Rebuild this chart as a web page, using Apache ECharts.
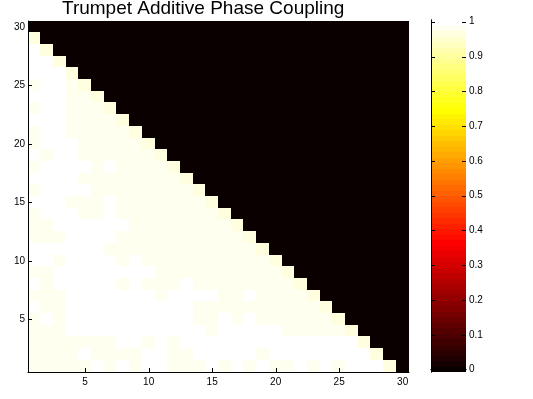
<!DOCTYPE html>
<html>
<head>
<meta charset="utf-8">
<script src="https://cdn.jsdelivr.net/npm/echarts@6/dist/echarts.min.js"></script>
<style>
html,body{margin:0;padding:0;background:#ffffff;}
#chart{width:533px;height:399px;}
</style>
</head>
<body>
<div id="chart"></div>
<script>
// value levels
const W = 1.00;   // white cells
const C = 0.98;   // pale cream cells
const D = 0.96;   // cells on the edge of the triangle (slightly more yellow)
const K = 0;      // black (upper triangle)

const xCategories = ['1','2','3','4','5','6','7','8','9','10','11','12','13','14','15','16','17','18','19','20','21','22','23','24','25','26','27','28','29','30'];
const yCategories = ['1','2','3','4','5','6','7','8','9','10','11','12','13','14','15','16','17','18','19','20','21','22','23','24','25','26','27','28','29','30'];
const axisTickLabels = ['5','10','15','20','25','30'];
const colorbarTicks = [0,0.1,0.2,0.3,0.4,0.5,0.6,0.7,0.8,0.9,1];
const colorLimits = [-0.007, 1.005];

// rows listed from y = 30 (top) down to y = 1 (bottom); columns x = 1..30
const couplingRows = [
/*30*/ [K,K,K,K,K,K,K,K,K,K, K,K,K,K,K,K,K,K,K,K, K,K,K,K,K,K,K,K,K,K],
/*29*/ [D,K,K,K,K,K,K,K,K,K, K,K,K,K,K,K,K,K,K,K, K,K,K,K,K,K,K,K,K,K],
/*28*/ [W,D,K,K,K,K,K,K,K,K, K,K,K,K,K,K,K,K,K,K, K,K,K,K,K,K,K,K,K,K],
/*27*/ [W,W,D,K,K,K,K,K,K,K, K,K,K,K,K,K,K,K,K,K, K,K,K,K,K,K,K,K,K,K],
/*26*/ [W,W,W,D,K,K,K,K,K,K, K,K,K,K,K,K,K,K,K,K, K,K,K,K,K,K,K,K,K,K],
/*25*/ [C,W,W,C,D,K,K,K,K,K, K,K,K,K,K,K,K,K,K,K, K,K,K,K,K,K,K,K,K,K],
/*24*/ [W,W,W,C,C,D,K,K,K,K, K,K,K,K,K,K,K,K,K,K, K,K,K,K,K,K,K,K,K,K],
/*23*/ [C,W,W,C,C,C,D,K,K,K, K,K,K,K,K,K,K,K,K,K, K,K,K,K,K,K,K,K,K,K],
/*22*/ [W,W,W,C,C,C,C,D,K,K, K,K,K,K,K,K,K,K,K,K, K,K,K,K,K,K,K,K,K,K],
/*21*/ [C,W,W,C,C,C,C,C,D,K, K,K,K,K,K,K,K,K,K,K, K,K,K,K,K,K,K,K,K,K],
/*20*/ [C,W,W,W,C,C,C,C,C,D, K,K,K,K,K,K,K,K,K,K, K,K,K,K,K,K,K,K,K,K],
/*19*/ [W,C,W,W,C,C,C,C,C,C, D,K,K,K,K,K,K,K,K,K, K,K,K,K,K,K,K,K,K,K],
/*18*/ [C,W,W,W,W,C,W,C,C,C, C,D,K,K,K,K,K,K,K,K, K,K,K,K,K,K,K,K,K,K],
/*17*/ [W,W,W,W,C,C,C,C,C,C, C,C,D,K,K,K,K,K,K,K, K,K,K,K,K,K,K,K,K,K],
/*16*/ [C,W,W,W,W,C,C,C,C,C, C,C,C,D,K,K,K,K,K,K, K,K,K,K,K,K,K,K,K,K],
/*15*/ [W,W,W,C,C,C,W,C,C,C, C,C,C,C,D,K,K,K,K,K, K,K,K,K,K,K,K,K,K,K],
/*14*/ [C,W,W,W,C,C,W,C,C,C, C,C,C,C,C,D,K,K,K,K, K,K,K,K,K,K,K,K,K,K],
/*13*/ [C,C,W,W,W,W,W,W,C,C, C,C,C,C,C,C,D,K,K,K, K,K,K,K,K,K,K,K,K,K],
/*12*/ [C,C,C,W,W,W,W,C,C,C, C,C,C,C,C,C,C,D,K,K, K,K,K,K,K,K,K,K,K,K],
/*11*/ [W,W,W,W,W,W,C,C,C,C, C,C,C,C,C,C,C,C,D,K, K,K,K,K,K,K,K,K,K,K],
/*10*/ [W,W,C,W,W,W,W,C,W,C, C,C,C,C,C,C,C,C,C,D, K,K,K,K,K,K,K,K,K,K],
/* 9*/ [C,C,W,W,W,W,W,W,W,W, C,C,C,C,C,C,C,C,C,C, D,K,K,K,K,K,K,K,K,K],
/* 8*/ [W,C,W,W,W,W,W,C,W,C, C,C,W,C,C,C,C,C,C,C, C,D,K,K,K,K,K,K,K,K],
/* 7*/ [C,C,C,W,W,W,W,W,W,W, C,W,W,W,W,C,C,W,C,C, C,C,D,K,K,K,K,K,K,K],
/* 6*/ [W,C,C,W,W,W,W,W,W,W, W,W,W,C,C,C,C,C,C,C, C,C,C,D,K,K,K,K,K,K],
/* 5*/ [C,W,C,W,W,W,W,W,W,W, W,W,W,C,C,W,C,W,C,C, C,C,C,C,D,K,K,K,K,K],
/* 4*/ [C,C,C,W,W,W,W,W,W,W, W,W,W,W,C,W,W,W,W,W, C,C,C,C,C,D,K,K,K,K],
/* 3*/ [C,C,C,C,C,C,C,W,W,C, W,C,W,W,W,W,W,W,W,W, W,W,W,W,W,W,D,K,K,K],
/* 2*/ [C,C,C,C,W,C,C,C,C,W, W,C,C,W,W,W,W,W,C,W, W,W,W,W,W,W,W,D,K,K],
/* 1*/ [C,C,C,C,C,W,C,W,C,W, W,C,C,C,W,C,W,C,W,C, C,W,C,W,C,W,W,W,D,K]
];

couplingRows.forEach(function (r, i) {
  if (r.length !== 30) throw new Error('row ' + (30 - i) + ' has ' + r.length + ' entries');
});

// MATLAB "hot" colormap, 64 entries
const NCOL = 64;
function hotColor(i) { // i = 0..63
  const k = i + 1;
  const r = Math.min(k / 24, 1);
  const g = Math.min(Math.max((k - 24) / 24, 0), 1);
  const b = Math.min(Math.max((k - 48) / 16, 0), 1);
  const h = function (v) { return ('0' + Math.round(v * 255).toString(16)).slice(-2); };
  return '#' + h(r) + h(g) + h(b);
}
const cmin = colorLimits[0], cmax = colorLimits[1], cstep = (cmax - cmin) / NCOL;
const pieces = [];
for (let i = 0; i < NCOL; i++) {
  const p = { gte: cmin + i * cstep, lt: cmin + (i + 1) * cstep, color: hotColor(i) };
  if (i === 0) { delete p.gte; }
  if (i === NCOL - 1) { delete p.lt; }
  pieces.push(p);
}

const heatData = [];
couplingRows.forEach(function (row, ri) {
  const yIdx = 29 - ri;
  row.forEach(function (v, xIdx) { heatData.push([xIdx, yIdx, v]); });
});
const bands = [];
for (let i = 0; i < NCOL; i++) bands.push([i]);
const mainTickData = axisTickLabels.map(function (t) { return [xCategories.indexOf(t), yCategories.indexOf(t)]; });
const cbTickData = colorbarTicks.map(function (v) { return [0.5, v]; });

const FONT = '"Liberation Sans", Arial, Helvetica, sans-serif';
const showEvery5 = function (index, value) { return axisTickLabels.indexOf(String(value)) >= 0; };
const TICK = 4;
const EPS = 1e-3;

const chart = echarts.init(document.getElementById('chart'), null, { renderer: 'canvas' });
chart.setOption({
  animation: false,
  backgroundColor: '#ffffff',
  title: {
    text: 'Trumpet Additive Phase Coupling',
    left: 62, top: -1, padding: 0,
    textStyle: { fontFamily: FONT, fontSize: 19, fontWeight: 'normal', color: '#000000' }
  },
  grid: [
    { left: 28, top: 21, width: 381, height: 351 },
    { left: 431, top: 20, width: 35, height: 352 }
  ],
  visualMap: {
    type: 'piecewise', show: false, seriesIndex: 0, dimension: 2, pieces: pieces
  },
  xAxis: [
    {
      type: 'category', gridIndex: 0, data: xCategories, position: 'bottom', z: 10,
      axisLine: { show: true, lineStyle: { color: '#000', width: 1 } },
      axisTick: { show: false },
      axisLabel: { show: true, interval: showEvery5, margin: 5, fontFamily: FONT, fontSize: 10, color: '#000' },
      splitLine: { show: false }
    },
    {
      type: 'value', gridIndex: 1, min: 0, max: 1, position: 'bottom', z: 10,
      axisLine: { show: true, lineStyle: { color: '#000', width: 1 } },
      axisTick: { show: false }, axisLabel: { show: false }, splitLine: { show: false }
    },
    {
      type: 'value', gridIndex: 1, min: 0, max: 1, position: 'top', z: 10,
      axisLine: { show: true, lineStyle: { color: '#000', width: 1 } },
      axisTick: { show: false }, axisLabel: { show: false }, splitLine: { show: false }
    }
  ],
  yAxis: [
    {
      type: 'category', gridIndex: 0, data: yCategories, position: 'left', z: 10,
      axisLine: { show: true, lineStyle: { color: '#000', width: 1 } },
      axisTick: { show: false },
      axisLabel: { show: true, interval: showEvery5, margin: 3, fontFamily: FONT, fontSize: 10, color: '#000' },
      splitLine: { show: false }
    },
    { // colorbar right edge + labels
      type: 'value', gridIndex: 1, min: cmin, max: cmax, position: 'right', z: 10,
      axisLine: { show: true, lineStyle: { color: '#000', width: 1 } },
      axisTick: { show: false },
      axisLabel: { show: true, margin: 3, customValues: colorbarTicks, fontFamily: FONT, fontSize: 10, color: '#000',
                   formatter: function (v) { return String(Math.round(v * 10) / 10); } },
      splitLine: { show: false }
    },
    { // colorbar left edge
      type: 'value', gridIndex: 1, min: cmin, max: cmax, position: 'left', z: 10,
      axisLine: { show: true, lineStyle: { color: '#000', width: 1 } },
      axisTick: { show: false }, axisLabel: { show: false }, splitLine: { show: false }
    }
  ],
  series: [
    { // image cells
      type: 'custom', xAxisIndex: 0, yAxisIndex: 0, data: heatData, silent: true,
      encode: { x: 0, y: 1 },
      renderItem: function (params, api) {
        const c = api.coord([api.value(0), api.value(1)]);
        const s = api.size([1, 1]);
        const x0 = Math.floor(c[0] - s[0] / 2 + EPS), x1 = Math.ceil(c[0] + s[0] / 2 - EPS);
        const y0 = Math.floor(c[1] - s[1] / 2 + EPS), y1 = Math.ceil(c[1] + s[1] / 2 - EPS);
        return {
          type: 'rect',
          shape: { x: x0, y: y0, width: x1 - x0, height: y1 - y0 },
          style: { fill: api.visual('color') }
        };
      }
    },
    { // inward tick marks of the image axes
      type: 'custom', xAxisIndex: 0, yAxisIndex: 0, data: mainTickData, silent: true, z: 5,
      encode: { x: 0, y: 1 },
      renderItem: function (params, api) {
        const cs = params.coordSys;
        const p = api.coord([api.value(0), api.value(1)]);
        const bottom = cs.y + cs.height, left = cs.x;
        const px = Math.round(p[0]) + 0.5, py = Math.round(p[1]) + 0.5;
        return {
          type: 'group',
          children: [
            { type: 'line', shape: { x1: px, y1: bottom, x2: px, y2: bottom - TICK }, style: { stroke: '#000', lineWidth: 1 } },
            { type: 'line', shape: { x1: left, y1: py, x2: left + TICK, y2: py }, style: { stroke: '#000', lineWidth: 1 } }
          ]
        };
      }
    },
    { // colour bands of the colorbar
      type: 'custom', xAxisIndex: 1, yAxisIndex: 1, data: bands, silent: true,
      renderItem: function (params, api) {
        const i = api.value(0);
        const lo = cmin + i * cstep, hi = lo + cstep;
        const a = api.coord([0, hi]);
        const b = api.coord([1, lo]);
        const y0 = Math.floor(a[1] + EPS), y1 = Math.ceil(b[1] - EPS);
        return {
          type: 'rect',
          shape: { x: a[0], y: y0, width: b[0] - a[0], height: y1 - y0 },
          style: { fill: hotColor(i) }
        };
      }
    },
    { // inward tick marks on both sides of the colorbar
      type: 'custom', xAxisIndex: 1, yAxisIndex: 1, data: cbTickData, silent: true, z: 5,
      encode: { x: 0, y: 1 },
      renderItem: function (params, api) {
        const cs = params.coordSys;
        const p = api.coord([api.value(0), api.value(1)]);
        const py = Math.round(p[1]) + 0.5;
        const l = cs.x, r = cs.x + cs.width;
        return {
          type: 'group',
          children: [
            { type: 'line', shape: { x1: l, y1: py, x2: l + TICK, y2: py }, style: { stroke: '#000', lineWidth: 1 } },
            { type: 'line', shape: { x1: r, y1: py, x2: r - TICK, y2: py }, style: { stroke: '#000', lineWidth: 1 } }
          ]
        };
      }
    }
  ]
});
</script>
</body>
</html>
